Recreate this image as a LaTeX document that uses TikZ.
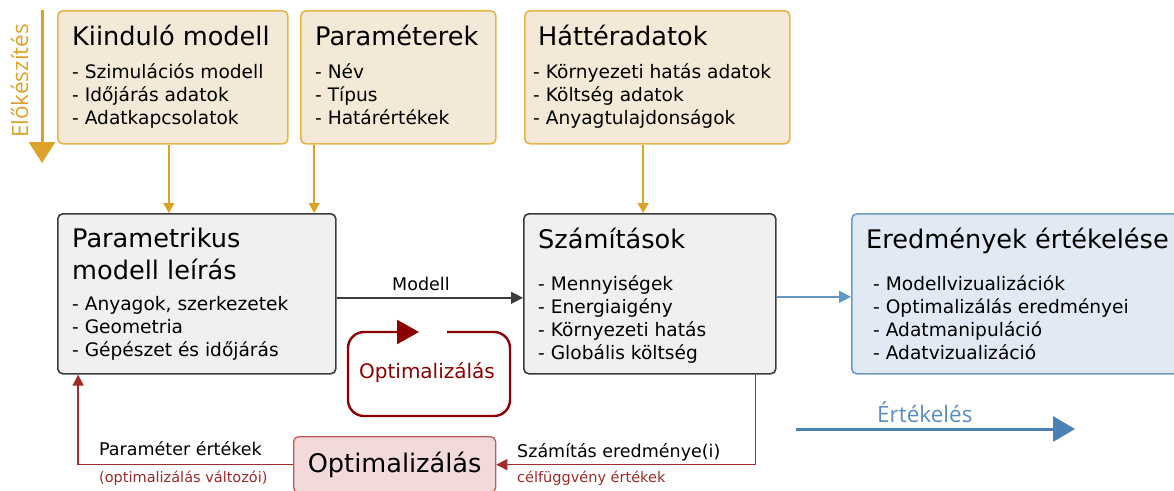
\documentclass[tikz,border=0pt]{standalone}
\usepackage{fontspec}
\setmainfont{DejaVu Sans}
\newfontfamily\labfont{Open Sans}
\usetikzlibrary{arrows.meta,calc}
\definecolor{gold}{HTML}{DCA32A}
\definecolor{goldbox}{HTML}{E6B54A}
\definecolor{goldfill}{HTML}{F3E9D6}
\definecolor{grayfill}{HTML}{F0F0F0}
\definecolor{grayline}{HTML}{3C3C3C}
\definecolor{bluefill}{HTML}{E1EAF4}
\definecolor{blueline}{HTML}{6D9AC6}
\definecolor{bluearr}{HTML}{4A82B6}
\definecolor{bluetext}{HTML}{5A8EC0}
\definecolor{dred}{HTML}{8B0000}
\definecolor{redline}{HTML}{A52A2A}
\definecolor{redfill}{HTML}{F3DADA}
\definecolor{redbox}{HTML}{C25A5A}
\definecolor{redtext}{HTML}{9E2A2A}
\newcommand{\ttl}{\fontsize{25.6}{30}\selectfont}
\newcommand{\bdy}{\fontsize{18.6}{23}\selectfont}
\newcommand{\lbl}{\fontsize{17.5}{21}\selectfont}
\newcommand{\sml}{\fontsize{14.5}{17}\selectfont}
\tikzset{
  boxbase/.style={rectangle, rounded corners=5pt, line width=1.6pt, inner sep=0pt, anchor=north west},
  goldbx/.style={boxbase, draw=goldbox, fill=goldfill},
  graybx/.style={boxbase, draw=grayline, fill=grayfill},
  bluebx/.style={boxbase, draw=blueline, fill=bluefill},
  redbx/.style={boxbase, draw=redbox, fill=redfill, line width=1.3pt},
  ttext/.style={anchor=base west, inner sep=0pt, font=\ttl},
  btext/.style={anchor=base west, inner sep=0pt, font=\bdy},
  ltext/.style={anchor=base west, inner sep=0pt, font=\lbl},
  stext/.style={anchor=base west, inner sep=0pt, font=\sml, text=redtext},
  goldarr/.style={draw=gold, line width=1.5pt, -{Triangle[length=10pt,width=11pt]}},
  blackarr/.style={draw=grayline, line width=1.4pt, -{Triangle[length=12pt,width=12pt]}},
  bluesm/.style={draw=bluearr!85, line width=1.4pt, -{Triangle[length=12pt,width=12pt]}},
  redarr/.style={draw=redline, line width=1.4pt, -{Triangle[length=11pt,width=11pt]}, color=redline},
}
\begin{document}
\begin{tikzpicture}[x=1pt,y=-1pt]
\useasboundingbox (0,0) rectangle (1174,490);
\clip (0,0) rectangle (1174,490);

% boxes
\node[goldbx, minimum width=230pt, minimum height=133pt] (b1) at (57,10) {};
\node[goldbx, minimum width=195pt, minimum height=133pt] (b2) at (300,10) {};
\node[goldbx, minimum width=265pt, minimum height=133pt] (b3) at (524,10) {};
\node[graybx, minimum width=278pt, minimum height=160pt] (b4) at (57,213) {};
\node[graybx, minimum width=252pt, minimum height=160pt] (b5) at (523,213) {};
\node[bluebx, minimum width=340pt, minimum height=160pt] (b6) at (851,213) {};
\node[redbx, minimum width=202pt, minimum height=56pt] (b7) at (293,436) {};
\node[font=\ttl, inner sep=0pt] (b7t) at (b7.center) {Optimalizálás};

% box 1 text
\node[ttext] (t1) at (72,45) {Kiinduló modell};
\node[btext] (t1a) at (72,78.5) {- Szimulációs modell};
\node[btext] (t1b) at (72,101.5) {- Időjárás adatok};
\node[btext] (t1c) at (72,124.5) {- Adatkapcsolatok};
% box 2 text
\node[ttext] (t2) at (315,45) {Paraméterek};
\node[btext] (t2a) at (315,78.5) {- Név};
\node[btext] (t2b) at (315,101.5) {- Típus};
\node[btext] (t2c) at (315,124.5) {- Határértékek};
% box 3 text
\node[ttext] (t3) at (538,45) {Háttéradatok};
\node[btext] (t3a) at (533,78.5) {- Környezeti hatás adatok};
\node[btext] (t3b) at (533,101.5) {- Költség adatok};
\node[btext] (t3c) at (533,124.5) {- Anyagtulajdonságok};
% box 4 text
\node[ttext] (t4) at (72,247) {Parametrikus};
\node[ttext] (t4x) at (72,279) {modell leírás};
\node[btext] (t4a) at (72,310) {- Anyagok, szerkezetek};
\node[btext] (t4b) at (72,333) {- Geometria};
\node[btext] (t4c) at (72,356.5) {- Gépészet és időjárás};
% box 5 text
\node[ttext] (t5) at (538,248) {Számítások};
\node[btext] (t5a) at (538,290) {- Mennyiségek};
\node[btext] (t5b) at (538,313) {- Energiaigény};
\node[btext] (t5c) at (538,336) {- Környezeti hatás};
\node[btext] (t5d) at (538,359) {- Globális költség};
% box 6 text
\node[ttext] (t6) at (866,248) {Eredmények értékelése};
\node[btext] (t6a) at (873,290) {- Modellvizualizációk};
\node[btext] (t6b) at (873,313) {- Optimalizálás eredményei};
\node[btext] (t6c) at (873,336) {- Adatmanipuláció};
\node[btext] (t6d) at (873,359) {- Adatvizualizáció};

% gold connectors
\draw[goldarr] ($(b1.south west)!0.483!(b1.south east)$) coordinate (g1) -- (g1 |- b4.north);
\draw[goldarr] ($(b2.south west)!0.072!(b2.south east)$) coordinate (g2) -- (g2 |- b4.north);
\draw[goldarr] ($(b3.south west)!0.447!(b3.south east)$) coordinate (g3) -- (g3 |- b5.north);

% model arrow
\draw[blackarr] ([yshift=-4pt]b4.east) -- ([yshift=-4pt]b5.west);
\node[ltext] (lm) at (392,290) {Modell};
% blue small arrow
\draw[bluesm] ([yshift=-3pt]b5.east) -- ([yshift=-3pt]b6.west);

% red feedback
\draw[redarr] ($(b5.south west)!0.917!(b5.south east)$) |- (b7.east);
\draw[redarr] (b7.west) -| ($(b4.south west)!0.0755!(b4.south east)$);
\node[ltext] (lr1) at (517,457) {Számítás eredménye(i)};
\node[stext] (lr2) at (517,482) {célfüggvény értékek};
\node[ltext] (ll1) at (99,455) {Paraméter értékek};
\node[stext] (ll2) at (99,482) {(optimalizálás változói)};

% optimisation cycle
\draw[dred, line width=2.4pt, rounded corners=16pt, -{Triangle[length=22pt,width=24pt]}]
  (447,332) -- (510,332) -- (510,416) -- (348,416) -- (348,332) -- (419,332);
\node[font=\fontsize{20}{24}\selectfont, text=dred, inner sep=0pt] (cyc) at (427,373) {Optimalizálás};

% preparation arrow
\coordinate (pa) at (42,10);
\coordinate (pb) at (42,163);
\draw[gold, line width=3pt, -{Triangle[length=21pt,width=26pt]}] (pa) -- (pb);
\node[rotate=90, anchor=base west, inner sep=0pt, text=gold, font=\labfont\fontsize{22.5}{26}\selectfont] (prep) at (28,138) {Előkészítés};

% evaluation arrow
\coordinate (ea) at (796,429);
\coordinate (eb) at (1075,429);
\draw[bluearr, line width=3pt, -{Triangle[length=22pt,width=25pt]}] (ea) -- (eb);
\node[anchor=base west, inner sep=0pt, text=bluetext, font=\labfont\fontsize{22.5}{26}\selectfont] (ev) at (877,422) {Értékelés};
\end{tikzpicture}
\end{document}
